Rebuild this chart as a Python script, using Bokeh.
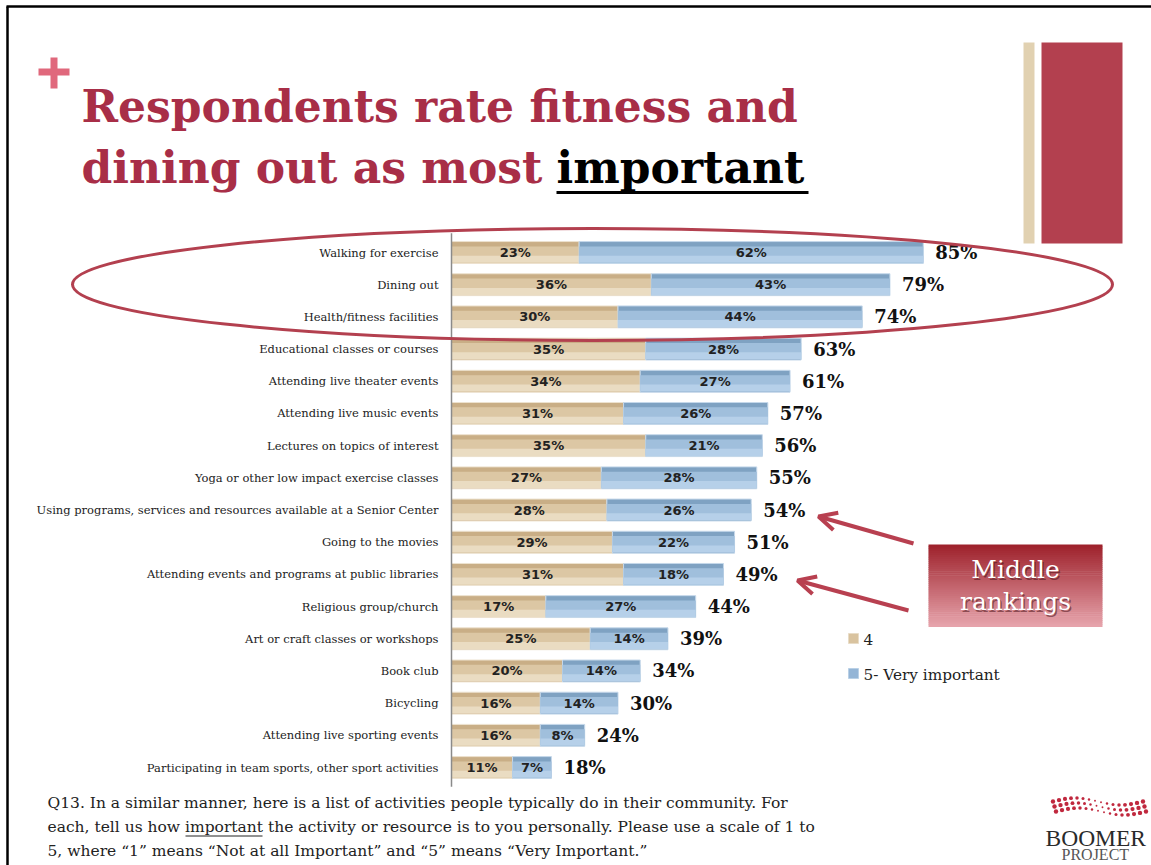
import math
from bokeh.plotting import figure
from bokeh.models import ColumnDataSource, Range1d, Arrow, OpenHead
from bokeh.core.properties import value
from bokeh.transform import dodge
from bokeh.embed import file_html
from bokeh.resources import INLINE

# ---------------- data ----------------
categories = [
    "Walking for exercise",
    "Dining out",
    "Health/fitness facilities",
    "Educational classes or courses",
    "Attending live theater events",
    "Attending live music events",
    "Lectures on topics of interest",
    "Yoga or other low impact exercise classes",
    "Using programs, services and resources available at a Senior Center",
    "Going to the movies",
    "Attending events and programs at public libraries",
    "Religious group/church",
    "Art or craft classes or workshops",
    "Book club",
    "Bicycling",
    "Attending live sporting events",
    "Participating in team sports, other sport activities",
]
rating_4 = [23, 36, 30, 35, 34, 31, 35, 27, 28, 29, 31, 17, 25, 20, 16, 16, 11]
rating_5 = [62, 43, 44, 28, 27, 26, 21, 28, 26, 22, 18, 27, 14, 14, 14, 8, 7]
totals = [85, 79, 74, 63, 61, 57, 56, 55, 54, 51, 49, 44, 39, 34, 30, 24, 18]
legend_labels = ["4", "5- Very important"]

title_line1 = "Respondents rate fitness and"
title_line2 = "dining out as most"
title_emph = "important"
note_lines = [
    "Q13. In a similar manner, here is a list of activities people typically do in their community. For",
    "each, tell us how important the activity or resource is to you personally. Please use a scale of 1 to",
    "5, where \u201c1\u201d  means \u201cNot at all Important\u201d and \u201c5\u201d means \u201cVery Important.\u201d",
]

# ---------------- layout ----------------
W, H = 1151, 865
AX_X = 451          # page x of the value axis (0 %)
PX_PER_PCT = 5.55
ROW0_Y = 252        # page y of first row
ROW_STEP = 32.19

p = figure(width=W, height=H, output_backend="svg", toolbar_location=None,
           x_range=Range1d(0, W), y_range=Range1d(H, 0),
           x_axis_type=None, y_axis_type=None, min_border=0,
           background_fill_color="white", border_fill_color="white")
p.outline_line_color = None
p.grid.visible = False
p.extra_x_ranges = {"pct": Range1d(start=-AX_X / PX_PER_PCT, end=(W - AX_X) / PX_PER_PCT)}
p.extra_y_ranges = {"row": Range1d(start=(H - ROW0_Y) / ROW_STEP, end=-ROW0_Y / ROW_STEP)}

SERIF = value("DejaVu Serif")
SANS = value("DejaVu Sans")
RED = "#B3404F"
TITLE_RED = "#A82E47"

# slide border (left & top)
p.segment(x0=[7, 6], y0=[6, 6], x1=[7, W], y1=[H, 6], line_color="black", line_width=2.5)

# plus sign
p.segment(x0=[38, 53.5], y0=[71.5, 57], x1=[69, 53.5], y1=[71.5, 88], line_color="#E0687C", line_width=7)

# right decorative bars
p.quad(left=[1023], right=[1034], top=[42], bottom=[243], fill_color="#E1D1B1", line_color=None)
p.quad(left=[1041], right=[1122], top=[42], bottom=[243], fill_color=RED, line_color=None)

# title
tkw = dict(text_font=SERIF, text_font_style="bold", text_font_size="44px", text_baseline="middle")
p.text(x=[81], y=[106], text=[title_line1], text_color=TITLE_RED, **tkw)
p.text(x=[81], y=[167], text=[title_line2], text_color=TITLE_RED, **tkw)
p.text(x=[556], y=[167], text=[title_emph], text_color="black", **tkw)
p.segment(x0=[556], y0=[192], x1=[808], y1=[192], line_color="black", line_width=3)

# ---------------- bars ----------------
idx = list(range(len(categories)))
src = ColumnDataSource(dict(
    y=idx, cat=categories, r4=rating_4, r5=rating_5,
    left4=[0] * len(idx),
    right5=[a + b for a, b in zip(rating_4, rating_5)],
    mid4=[v / 2 for v in rating_4],
    mid5=[a + b / 2 for a, b in zip(rating_4, rating_5)],
    lab4=[f"{v}%" for v in rating_4], lab5=[f"{v}%" for v in rating_5],
    tot=totals, labt=[f"{v}%" for v in totals],
))

BH = 0.68
rr = p.extra_y_ranges["row"]
kw = dict(source=src, x_range_name="pct", y_range_name="row")
# tan segment (gradient imitation)
p.hbar(y="y", left="left4", right="r4", height=BH, fill_color="#C9AE86", line_color="#EDE2CF", line_width=1, **kw)
p.hbar(y=dodge("y", 0.06, range=rr), left="left4", right="r4", height=0.5, fill_color="#DCC7A4", line_color=None, **kw)
p.hbar(y=dodge("y", 0.21, range=rr), left="left4", right="r4", height=0.22, fill_color="#EADCC2", line_color=None, **kw)
# blue segment
p.hbar(y="y", left="r4", right="right5", height=BH, fill_color="#7FA2C2", line_color="#C5D8EA", line_width=1, **kw)
p.hbar(y=dodge("y", 0.06, range=rr), left="r4", right="right5", height=0.5, fill_color="#A0BFDC", line_color=None, **kw)
p.hbar(y=dodge("y", 0.21, range=rr), left="r4", right="right5", height=0.22, fill_color="#B6D0E9", line_color=None, **kw)

# value axis line
p.segment(x0=[0], y0=[-0.6], x1=[0], y1=[len(idx) - 0.4], line_color="#8A8A8A", line_width=1.5,
          x_range_name="pct", y_range_name="row")

# labels
p.text(x="mid4", y="y", text="lab4", text_font=SANS, text_font_style="bold", text_font_size="13px",
       text_color="#222222", text_align="center", text_baseline="middle", **kw)
p.text(x="mid5", y="y", text="lab5", text_font=SANS, text_font_style="bold", text_font_size="13px",
       text_color="#222222", text_align="center", text_baseline="middle", **kw)
p.text(x="tot", y="y", text="labt", x_offset=12, text_font=SERIF, text_font_style="bold",
       text_font_size="18px", text_color="#111111", text_align="left", text_baseline="middle", **kw)
p.text(x=0, y="y", text="cat", x_offset=-13, text_font=SERIF, text_font_size="11.5px",
       text_color="#222222", text_align="right", text_baseline="middle", **kw)

# highlight ellipse
p.ellipse(x=[592], y=[284], width=[1040], height=[112], width_units="screen", height_units="screen",
          fill_color=None, line_color=RED, line_width=3)

# arrows
for xs, ys, xe, ye in [(913, 543, 818, 516), (908, 610, 797, 580)]:
    p.add_layout(Arrow(x_start=xs, y_start=ys, x_end=xe, y_end=ye, line_color="#B84050", line_width=4,
                       end=OpenHead(size=18, line_color="#B84050", line_width=4)))

# "Middle rankings" box with vertical gradient
n = 40
top_c = (158, 34, 44)
bot_c = (230, 163, 171)
bx0, bx1, by0, by1 = 928, 1102, 544, 626
lefts, rights, tops, bottoms, cols = [], [], [], [], []
for k in range(n):
    t = k / (n - 1)
    c = tuple(int(round(a + (b - a) * t)) for a, b in zip(top_c, bot_c))
    lefts.append(bx0); rights.append(bx1)
    tops.append(by0 + (by1 - by0) * k / n); bottoms.append(by0 + (by1 - by0) * (k + 1) / n + 0.6)
    cols.append("#%02x%02x%02x" % c)
p.quad(left=lefts, right=rights, top=tops, bottom=bottoms, fill_color=cols, line_color=None)
for dx, col, alpha in [(1.5, "#4a1218", 0.55), (0, "white", 1.0)]:
    p.text(x=[1015 + dx], y=[569 + dx], text=["Middle"], text_font=SERIF, text_font_size="25px",
           text_color=col, text_alpha=alpha, text_align="center", text_baseline="middle")
    p.text(x=[1015 + dx], y=[601 + dx], text=["rankings"], text_font=SERIF, text_font_size="25px",
           text_color=col, text_alpha=alpha, text_align="center", text_baseline="middle")

# legend
p.rect(x=[853, 853], y=[638, 673], width=10, height=10, fill_color=["#D9C39F", "#94B5D6"],
       line_color=["#E8DCC7", "#B9D0E6"])
p.text(x=[863, 863], y=[639, 674], text=legend_labels, text_font=SERIF, text_font_size="15.3px",
       text_color="#222222", text_baseline="middle")

# question note
note_kw = dict(text_font=SERIF, text_font_size="15.5px", text_color="#222222", text_baseline="middle")
p.text(x=[47, 47, 47], y=[802, 826, 850], text=note_lines, **note_kw)
p.segment(x0=[185], y0=[835.5], x1=[262], y1=[835.5], line_color="#222222", line_width=1)

# logo
dx_, dy_, sizes = [], [], []
for k in range(16):
    x = 1054 + k * 6
    yc = 806 - 3.5 * math.sin(2 * math.pi * (x - 1054) / 90)
    big = abs(math.cos(math.pi * (x - 1054) / 90))
    for r in (-5, 0, 5):
        dx_.append(x + r * 0.3)
        dy_.append(yc + r)
        sizes.append(1.6 + 2.8 * big)
p.scatter(x=dx_, y=dy_, size=sizes, fill_color="#C0283E", line_color=None)
p.text(x=[1045], y=[837], text=["BOOMER"], text_font=value("Liberation Serif"), text_font_size="23.5px",
       text_color="#2a2a2a", text_baseline="middle")
p.text(x=[1061], y=[854], text=["PROJECT"], text_font=value("Liberation Serif"), text_font_size="16px",
       text_color="#555555", text_baseline="middle")

open("out.html", "w").write(file_html(p, INLINE))
